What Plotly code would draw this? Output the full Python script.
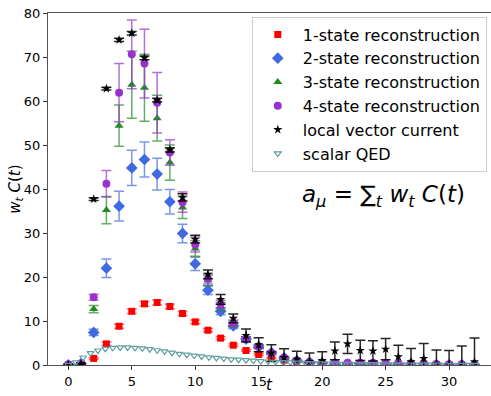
import numpy as np
import plotly.graph_objects as go

t = list(range(33))

red = [0.05, 0.3, 1.5, 4.8, 8.8, 12.2, 13.9, 14.2, 13.3, 11.7, 9.8, 7.9, 6.1, 4.5, 3.3, 2.4, 1.6, 1.1,
       0.75, 0.5, 0.35, 0.25, 0.2, 0.15, 0.1, 0.08, 0.06, 0.05, 0.04, 0.03, 0.02, 0.02, 0.01]
red_err = [0.02, 0.05, 0.2, 0.35, 0.45, 0.5, 0.55, 0.55, 0.5, 0.45, 0.4, 0.35, 0.3, 0.25, 0.2, 0.2, 0.15,
           0.12, 0.1, 0.08, 0.06, 0.05, 0.04, 0.03, 0.03, 0.02, 0.02, 0.02, 0.02, 0.01, 0.01, 0.01, 0.01]

blue = [0.05, 0.3, 7.4, 22.0, 36.1, 44.8, 46.7, 43.4, 37.1, 29.9, 23.0, 17.0, 12.2, 8.9, 5.9, 4.1, 2.8, 1.6,
        1.0, 0.6, 0.4, 0.3, 0.2, 0.15, 0.1, 0.08, 0.06, 0.05, 0.04, 0.03, 0.02, 0.02, 0.01]
blue_err = [0.02, 0.05, 0.7, 2.1, 3.4, 4.0, 4.0, 3.6, 2.8, 2.1, 1.5, 1.0, 0.8, 0.6, 0.5, 0.4, 0.3, 0.25,
            0.2, 0.15, 0.1, 0.1, 0.08, 0.06, 0.05, 0.04, 0.03, 0.03, 0.02, 0.02, 0.02, 0.01, 0.01]

green = [0.05, 0.3, 12.7, 35.2, 54.4, 63.7, 63.0, 56.1, 46.0, 35.8, 26.5, 19.2, 13.3, 9.3, 5.9, 4.2, 2.7, 1.6,
         1.0, 0.6, 0.4, 0.3, 0.25, 0.2, 0.15, 0.12, 0.1, 0.08, 0.06, 0.05, 0.04, 0.03, 0.02]
green_err = [0.02, 0.05, 0.8, 3.1, 4.7, 7.6, 7.6, 5.2, 4.0, 2.5, 1.8, 1.2, 0.9, 0.7, 0.5, 0.4, 0.3, 0.25,
             0.2, 0.15, 0.1, 0.1, 0.08, 0.06, 0.05, 0.04, 0.03, 0.03, 0.02, 0.02, 0.02, 0.01, 0.01]

purple = [0.1, 0.3, 15.4, 41.2, 61.9, 70.6, 68.5, 59.6, 48.3, 37.0, 27.4, 19.6, 13.8, 9.5, 5.9, 4.2, 2.7, 1.7,
          1.0, 0.7, 0.5, 0.5, 0.5, 0.5, 0.5, 0.45, 0.45, 0.4, 0.4, 0.2, 0.15, 0.15, 0.1]
purple_err = [0.02, 0.05, 0.7, 3.0, 6.6, 7.8, 7.8, 6.9, 2.9, 2.3, 1.7, 1.2, 0.9, 0.7, 0.5, 0.4, 0.3, 0.25,
              0.2, 0.15, 0.1, 0.1, 0.08, 0.06, 0.05, 0.04, 0.03, 0.03, 0.02, 0.02, 0.02, 0.01, 0.01]

black = [0.1, 0.3, 37.7, 62.8, 73.9, 75.4, 69.8, 60.2, 48.9, 38.1, 28.6, 20.6, 14.9, 10.6, 6.7, 4.6, 2.7, 1.7,
         1.3, 0.8, 1.0, 3.2, 4.8, 3.3, 3.2, 3.6, 1.9, 0.75, 1.5, 0.2, 0.1, 0.1, 0.75]
black_err = [0.05, 0.1, 0.3, 0.3, 0.35, 0.4, 0.4, 0.4, 0.5, 0.8, 0.9, 1.0, 1.1, 1.0, 1.5, 1.6, 1.9, 2.0,
             1.8, 1.9, 2.0, 2.0, 2.2, 2.3, 2.3, 2.4, 2.6, 3.0, 3.4, 3.2, 3.2, 4.2, 5.4]

qed_t = list(np.round(np.arange(56) * 7 / 12, 4))
qed = [0.0, 0.6, 1.7, 2.7, 3.3, 3.7, 3.9, 4.0, 4.0, 3.9, 3.8, 3.6, 3.35, 3.1, 2.8, 2.55, 2.35, 2.15,
       1.95, 1.75, 1.6, 1.45, 1.3, 1.2, 1.1, 1.0, 0.9, 0.8, 0.72, 0.65, 0.58, 0.52, 0.47, 0.42, 0.38,
       0.34, 0.3, 0.27, 0.24, 0.22, 0.2, 0.18, 0.16, 0.14, 0.13, 0.12, 0.11, 0.1, 0.09, 0.08, 0.07,
       0.06, 0.06, 0.05, 0.05, 0.04]

FONT = "DejaVu Sans"

fig = go.Figure()

series = [
    ("1-state reconstruction", red, red_err, "#ff0000", "rgba(255,0,0,0.55)", "square", 7),
    ("2-state reconstruction", blue, blue_err, "#4169e1", "rgba(65,105,225,0.7)", "diamond", 9),
    ("3-state reconstruction", green, green_err, "#228b22", "rgba(34,139,34,0.7)", "triangle-up", 8),
    ("4-state reconstruction", purple, purple_err, "#9932cc", "rgba(153,50,204,0.7)", "circle", 8),
    ("local vector current", black, black_err, "#000000", "rgba(0,0,0,0.85)", "star", 7),
]
for name, y, e, col, ecol, sym, sz in series:
    fig.add_trace(go.Scatter(
        x=t, y=y, mode="markers", name=name,
        marker=dict(symbol=sym, size=sz, color=col, line=dict(width=0)),
        error_y=dict(type="data", array=e, visible=True, color=ecol, thickness=1.5, width=5),
        cliponaxis=True,
    ))

fig.add_trace(go.Scatter(
    x=qed_t, y=qed, mode="markers", name="scalar QED",
    marker=dict(symbol="triangle-down-open", size=6, color="#5f9ea0", line=dict(width=1.2)),
))

fig.update_layout(
    width=491, height=396,
    margin=dict(l=48, r=0, t=13, b=31),
    paper_bgcolor="white", plot_bgcolor="white",
    font=dict(family=FONT, size=13, color="#000"),
    showlegend=True,
    legend=dict(
        x=0.46, y=0.99, xanchor="left", yanchor="top",
        bgcolor="rgba(255,255,255,0.8)", bordercolor="#cccccc", borderwidth=1,
        font=dict(family=FONT, size=16, color="#000"),
        itemwidth=40, tracegroupgap=0,
    ),
    xaxis=dict(
        range=[-1.6, 33.3], tickmode="array", tickvals=[0, 5, 10, 15, 20, 25, 30],
        showgrid=False, zeroline=False, showline=True, linecolor="#555", linewidth=1.2,
        mirror=True, ticks="outside", ticklen=4, tickcolor="#333",
        tickfont=dict(family=FONT, size=13), automargin=False,
    ),
    yaxis=dict(
        range=[0, 80], tickmode="array", tickvals=[0, 10, 20, 30, 40, 50, 60, 70, 80],
        showgrid=False, zeroline=False, showline=True, linecolor="#555", linewidth=1.2,
        mirror=False, ticks="outside", ticklen=4, tickcolor="#333",
        tickfont=dict(family=FONT, size=13), automargin=False,
    ),
    annotations=[
        dict(
            x=0.757, y=0.48, xref="paper", yref="paper", xanchor="center", yanchor="middle",
            text="<i>a</i><sub><i>μ</i></sub> = ∑<sub><i>t</i></sub> <i>w</i><sub><i>t</i></sub> <i>C</i>(<i>t</i>)",
            showarrow=False, font=dict(family=FONT, size=23, color="#000"),
        ),
        dict(
            x=0.5, y=-0.085, xref="paper", yref="paper", xanchor="center", yanchor="bottom",
            text="<i>t</i>", showarrow=False, borderpad=0,
            font=dict(family=FONT, size=15, color="#000"),
        ),
        dict(
            x=-0.075, y=0.5, xref="paper", yref="paper", xanchor="center", yanchor="middle",
            text="<i>w</i><sub><i>t</i></sub> <i>C</i>(<i>t</i>)", textangle=-90,
            showarrow=False, font=dict(family=FONT, size=15, color="#000"),
        ),
    ],
)

fig.write_html("out.html")
